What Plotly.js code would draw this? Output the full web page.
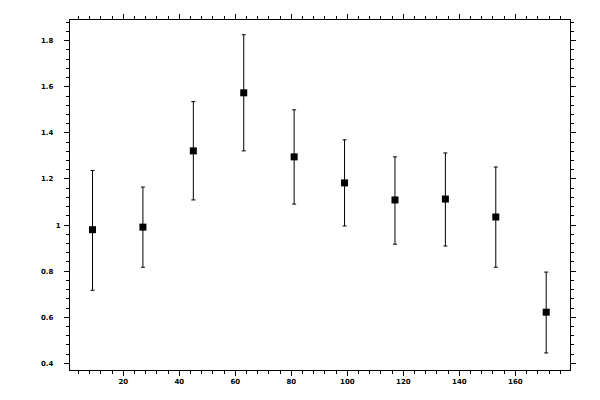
<!DOCTYPE html>
<html>
<head>
<meta charset="utf-8">
<script src="https://cdn.plot.ly/plotly-3.0.1.min.js"></script>
<style>
  html, body { margin: 0; padding: 0; background: #fff; }
  #chart { width: 600px; height: 400px; }
</style>
</head>
<body>
<div id="chart"></div>
<script>
const binCenters = [9, 27, 45, 63, 81, 99, 117, 135, 153, 171];
const values = [0.980, 0.991, 1.322, 1.574, 1.296, 1.183, 1.109, 1.113, 1.035, 0.622];
const upperEdge = [1.237, 1.165, 1.536, 1.826, 1.500, 1.370, 1.296, 1.313, 1.252, 0.796];
const lowerEdge = [0.717, 0.817, 1.109, 1.322, 1.091, 0.996, 0.917, 0.909, 0.817, 0.445];

// y tick labels (the original sets "1" further right than the decimal ones)
const yTickVals = [0.4, 0.6, 0.8, 1, 1.2, 1.4, 1.6, 1.8];
const yTickLabels = ['0.4', '0.6', '0.8', '1', '1.2', '1.4', '1.6', '1.8'];

const errPlus = values.map((v, i) => upperEdge[i] - v);
const errMinus = values.map((v, i) => v - lowerEdge[i]);
const yTickText = yTickLabels.map((t) => t.includes('.') ? t + '\u00a0\u00a0\u00a0' : t);

const xRange = [0.96, 179.5];
const yRange = [0.371, 1.89];

const FONT = { family: 'DejaVu Sans, sans-serif', size: 7, color: '#000', weight: 'bold' };

const traces = [{
  x: binCenters, y: values, type: 'scatter', mode: 'markers',
  marker: { symbol: 'square', size: 7, color: '#000' },
  error_y: {
    type: 'data', symmetric: false, array: errPlus, arrayminus: errMinus,
    color: '#000', thickness: 1, width: 2,
  },
  xaxis: 'x', yaxis: 'y', hoverinfo: 'skip',
}];

// shared axis styling; the second pair of axes draws the inward half of the major ticks
const base = {
  showgrid: false, zeroline: false, showline: true, linecolor: '#000', linewidth: 1,
  mirror: 'ticks', tickcolor: '#000', tickwidth: 1, fixedrange: true,
};

const layout = {
  width: 600, height: 400,
  margin: { l: 70, r: 30, t: 20, b: 30 },
  paper_bgcolor: '#fff', plot_bgcolor: '#fff',
  showlegend: false,
  font: FONT,
  xaxis: Object.assign({}, base, {
    range: xRange, dtick: 20, tick0: 0, ticks: 'outside', ticklen: 5,
    tickfont: FONT, ticklabelstandoff: 0,
    minor: { dtick: 4, tick0: 0, ticks: 'outside', ticklen: 3, tickcolor: '#000', showgrid: false },
  }),
  yaxis: Object.assign({}, base, {
    range: yRange, tickmode: 'array', tickvals: yTickVals, ticktext: yTickText,
    ticks: 'outside', ticklen: 5, tickfont: FONT, ticklabelstandoff: 2,
    minor: { tickmode: 'linear', dtick: 0.04, tick0: 0, ticks: 'outside', ticklen: 3, tickcolor: '#000', showgrid: false },
  }),
  xaxis2: Object.assign({}, base, {
    overlaying: 'x', anchor: 'y2', range: xRange, dtick: 20, tick0: 0,
    ticks: 'inside', ticklen: 4, showticklabels: false,
  }),
  yaxis2: Object.assign({}, base, {
    overlaying: 'y', anchor: 'x2', range: yRange, dtick: 0.2, tick0: 0,
    ticks: 'inside', ticklen: 4, showticklabels: false,
  }),
};

Plotly.newPlot('chart', traces, layout, { staticPlot: true, displayModeBar: false });
</script>
</body>
</html>
